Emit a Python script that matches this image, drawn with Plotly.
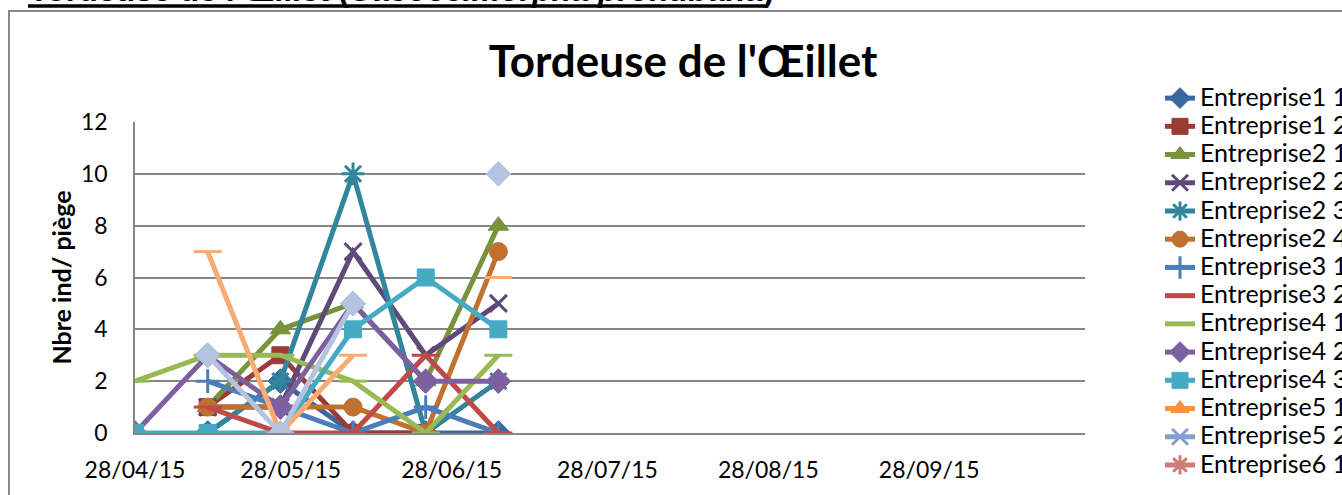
import plotly.graph_objects as go

dates = ["2015-04-28", "2015-05-12", "2015-05-26", "2015-06-09", "2015-06-23", "2015-07-07"]

tick_dates = ["2015-04-28", "2015-05-28", "2015-06-28", "2015-07-28", "2015-08-28", "2015-09-28"]
tick_labels = ["28/04/15", "28/05/15", "28/06/15", "28/07/15", "28/08/15", "28/09/15"]

series_names = ["Entreprise1 1", "Entreprise1 2", "Entreprise2 1", "Entreprise2 2", "Entreprise2 3",
                "Entreprise2 4", "Entreprise3 1", "Entreprise3 2", "Entreprise4 1", "Entreprise4 2",
                "Entreprise4 3", "Entreprise5 1", "Entreprise5 2", "Entreprise6 1"]

e1_1 = [None, 0, 2, 0, 0, 0]
e1_2 = [None, 1, 3, 0, 0, None]
e2_1 = [None, 1, 4, 5, 2, 8]
e2_2 = [None, 1, 1, 7, 3, 5]
e2_3 = [None, 0, 2, 10, 0, 2]
e2_4 = [None, 1, 1, 1, 0, 7]
e3_1 = [None, 2, 1, 0, 1, 0]
e3_2 = [None, 1, 0, 0, 3, 0]
e4_1 = [2, 3, 3, 2, 0, 3]
e4_2 = [0, 3, 1, 5, 2, 2]
e4_3 = [0, 0, 0, 4, 6, 4]
e5_1 = [None, None, None, None, None, None]
e5_2 = [None, None, None, None, None, None]
e6_1 = [None, None, None, None, None, None]
# series whose legend entries fall below the visible part of the legend
extra_a = [None, 7, 0, 3, None, 6]
extra_b = [None, 3, 0, 5, None, 10]

values = [e1_1, e1_2, e2_1, e2_2, e2_3, e2_4, e3_1, e3_2, e4_1, e4_2, e4_3, e5_1, e5_2, e6_1]
colors = ["#3B66A0", "#9B3B38", "#77933C", "#5F497A", "#31859C", "#C0712F", "#4A7EBB", "#BE4B48",
          "#98B954", "#7D60A0", "#46AAC5", "#F69240", "#819FD0", "#D07A78"]
symbols = ["diamond", "square", "triangle-up", "x-thin-open", "asterisk-open", "circle",
           "cross-thin-open", "line-ew-open", "line-ew-open", "diamond", "square", "triangle-up",
           "x-thin-open", "asterisk-open"]
sizes = [19, 17, 18, 17, 19, 18, 17, 20, 20, 19, 17, 18, 17, 19]

fig = go.Figure()
for name, vals, col, sym, sz in zip(series_names, values, colors, symbols, sizes):
    fig.add_trace(go.Scatter(
        x=dates, y=vals, name='<span style="font-size:25px">' + name + '</span>',
        mode="lines+markers",
        line=dict(color=col, width=5),
        marker=dict(symbol=sym, size=sz, color=col, line=dict(color=col, width=3 if "open" in sym else 1)),
    ))

for vals, col, sym, sz in [(extra_a, "#F9AB73", "line-ew-open", 20), (extra_b, "#B4C4E0", "diamond", 19)]:
    fig.add_trace(go.Scatter(
        x=dates, y=vals, mode="lines+markers", showlegend=False,
        line=dict(color=col, width=5),
        marker=dict(symbol=sym, size=sz, color=col, line=dict(color=col, width=3 if "open" in sym else 1)),
    ))

W, H = 1342, 495
PL, PR, PT, PB = 135, 1085, 122, 433  # plot area in page pixels
L, T, R, B = PL, PT, W - PR, H - PB
pw, ph = PR - PL, PB - PT

def px_x(p):
    return (p - PL) / pw

def px_y(p):
    return (PB - p) / ph

fig.update_layout(
    width=W, height=H,
    margin=dict(l=L, r=R, t=T, b=B, autoexpand=False),
    paper_bgcolor="white", plot_bgcolor="white",
    font=dict(family="Lato", color="black"),
    title=dict(text="<b>Tordeuse de l'Œillet</b>", x=683 / W, xanchor="center", xref="container",
               yref="container", y=1 - 62 / H, yanchor="middle",
               font=dict(family="Lato", size=44, color="black")),
    showlegend=True,
    legend=dict(x=px_x(1160), y=px_y(79), xanchor="left", yanchor="top", maxheight=2000,
                font=dict(family="Lato", size=19.4, color="black"),
                bgcolor="rgba(0,0,0,0)", tracegroupgap=0, itemwidth=30),
    xaxis=dict(type="date", range=["2015-04-28", "2015-10-28"], tickmode="array",
               tickvals=tick_dates, ticktext=tick_labels, showgrid=False,
               showline=True, linecolor="#868686", linewidth=1.5, ticks="",
               tickfont=dict(family="Lato", size=23), ticklabelstandoff=16, zeroline=False),
    yaxis=dict(range=[0, 12], dtick=2, tick0=0, showgrid=True, gridcolor="#868686", gridwidth=1.5,
               showline=True, linecolor="#868686", linewidth=1.5, ticks="", zeroline=False,
               tickfont=dict(family="Lato", size=23), ticklabelstandoff=21,
               title=dict(text="<b>Nbre ind/ piège</b>", font=dict(family="Lato", size=25), standoff=2)),
    shapes=[
        dict(type="rect", xref="paper", yref="paper", x0=px_x(9), x1=px_x(1400),
             y0=px_y(560), y1=px_y(11), line=dict(color="#878787", width=2), fillcolor="rgba(0,0,0,0)",
             layer="below"),
    ],
    annotations=[dict(text="<b>Tordeuse de l'Œillet (<i>Cacoecimorpha pronubana</i>)</b>",
                      xref="paper", yref="paper", x=px_x(27), y=px_y(10), xanchor="left", yanchor="bottom",
                      showarrow=False,
                      font=dict(family="Liberation Sans", size=32, color="black"))],
)
# underline of the cut-off page heading, drawn above the text
fig.add_shape(type="line", xref="paper", yref="paper", x0=px_x(28), x1=px_x(765),
              y0=px_y(6), y1=px_y(6), line=dict(color="black", width=3.5), layer="above")

fig.write_html("out.html", config={"displayModeBar": False},
               post_script="document.body.style.margin='0';")
